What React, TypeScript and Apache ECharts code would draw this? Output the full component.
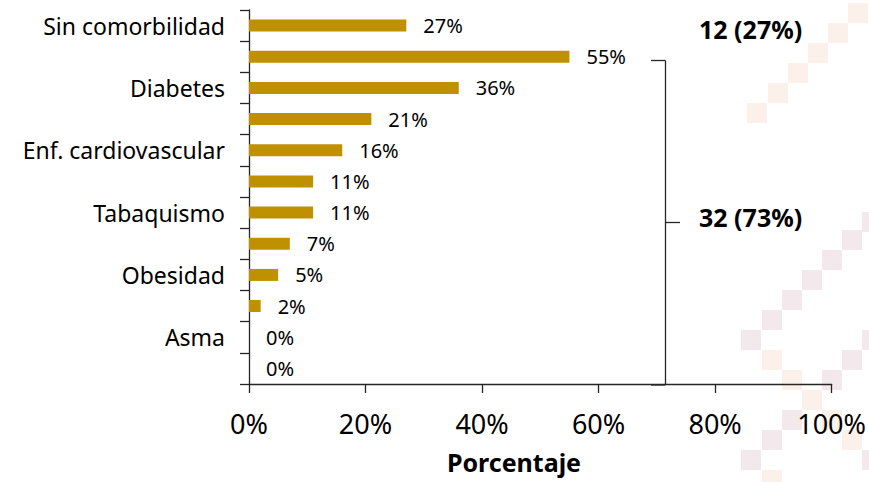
import React, { useEffect, useRef } from "react";
import * as echarts from "echarts";

const categories = [
  "Sin comorbilidad",
  "Hipertensión",
  "Diabetes",
  "Enf. renal crónica",
  "Enf. cardiovascular",
  "EPOC",
  "Tabaquismo",
  "Inmunosupresión",
  "Obesidad",
  "VIH/SIDA",
  "Asma",
  "Otra",
];
const values = [27, 55, 36, 21, 16, 11, 11, 7, 5, 2, 0, 0];
const xTicks = [0, 20, 40, 60, 80, 100];
const groupLabels = ["12 (27%)", "32 (73%)"];

const FONT = "Noto Sans";
const PEACH = "#FBF1EA";
const PINK = "#F3E8EB";
const decoSquares: [number, number, string][] = [
  [848, 3, PEACH], [828, 23, PEACH], [808, 43, PEACH], [788, 63, PEACH], [768, 83, PEACH], [747, 103, PEACH],
  [862, 212, PINK], [842, 230, PINK], [822, 250, PINK], [802, 270, PINK], [782, 290, PINK], [762, 310, PINK], [741, 330, PINK],
  [762, 350, PEACH], [782, 370, PEACH], [802, 390, PEACH], [822, 410, PEACH], [842, 430, PEACH],
  [862, 330, PINK], [842, 350, PINK], [822, 370, PINK],
  [782, 410, PINK], [762, 430, PINK], [741, 450, PINK], [762, 470, PEACH], [862, 450, PINK],
];

export default function App() {
  const ref = useRef<HTMLDivElement>(null);
  useEffect(() => {
    if (!ref.current) return;
    const chart = echarts.init(ref.current, undefined, { renderer: "svg" });
    const axisColor = "#262626";
    const graphic: any[] = decoSquares.map(([x, y, c]) => ({
      type: "rect",
      shape: { x, y, width: 20, height: 20 },
      style: { fill: c },
      silent: true,
      z: -10,
    }));
    const bx = 665.5;
    graphic.push(
      { type: "line", shape: { x1: 651, y1: 60.5, x2: bx, y2: 60.5 }, style: { stroke: axisColor, lineWidth: 1.3 } },
      { type: "line", shape: { x1: bx, y1: 60.5, x2: bx, y2: 385 }, style: { stroke: axisColor, lineWidth: 1.3 } },
      { type: "line", shape: { x1: 651, y1: 385, x2: bx, y2: 385 }, style: { stroke: axisColor, lineWidth: 1.3 } },
      { type: "line", shape: { x1: bx, y1: 222.5, x2: 680, y2: 222.5 }, style: { stroke: axisColor, lineWidth: 1.3 } },
      {
        type: "text",
        style: { x: 699, y: 29, text: groupLabels[0], font: `bold 25px "${FONT}"`, fill: "#000", align: "left", verticalAlign: "middle" },
      },
      {
        type: "text",
        style: { x: 699, y: 217, text: groupLabels[1], font: `bold 25px "${FONT}"`, fill: "#000", align: "left", verticalAlign: "middle" },
      },
      {
        type: "text",
        style: { x: 514, y: 462, text: "Porcentaje", font: `bold 25px "${FONT}"`, fill: "#000", align: "center", verticalAlign: "middle" },
      }
    );
    chart.setOption({
      animation: false,
      backgroundColor: "#fff",
      grid: { left: 249, right: 36, top: 10, bottom: 98, containLabel: false },
      xAxis: {
        type: "value",
        min: xTicks[0],
        max: xTicks[xTicks.length - 1],
        interval: 20,
        splitLine: { show: false },
        axisLine: { show: true, lineStyle: { color: axisColor, width: 1.3 } },
        axisTick: { show: true, length: 9, lineStyle: { color: axisColor, width: 1.3 } },
        axisLabel: {
          formatter: "{value}%",
          fontFamily: FONT,
          fontSize: 27,
          color: "#000",
          margin: 26,
        },
      },
      yAxis: {
        type: "category",
        data: categories,
        inverse: true,
        axisLine: { show: true, lineStyle: { color: axisColor, width: 1.3 } },
        axisTick: { show: true, length: 9, interval: 0, lineStyle: { color: axisColor, width: 1.3 } },
        axisLabel: {
          interval: 1,
          fontFamily: FONT,
          fontSize: 23,
          color: "#000",
          margin: 24,
        },
      },
      series: [
        {
          type: "bar",
          data: values,
          barWidth: 12,
          itemStyle: { color: "#BF9000" },
          label: {
            show: true,
            position: "right",
            distance: 17,
            formatter: "{c}%",
            fontFamily: FONT,
            fontSize: 20,
            color: "#000",
          },
        },
      ],
      graphic,
    });
    return () => chart.dispose();
  }, []);
  return (
    <div
      ref={ref}
      style={{ position: "fixed", left: 0, top: 0, width: 869, height: 482 }}
    />
  );
}
